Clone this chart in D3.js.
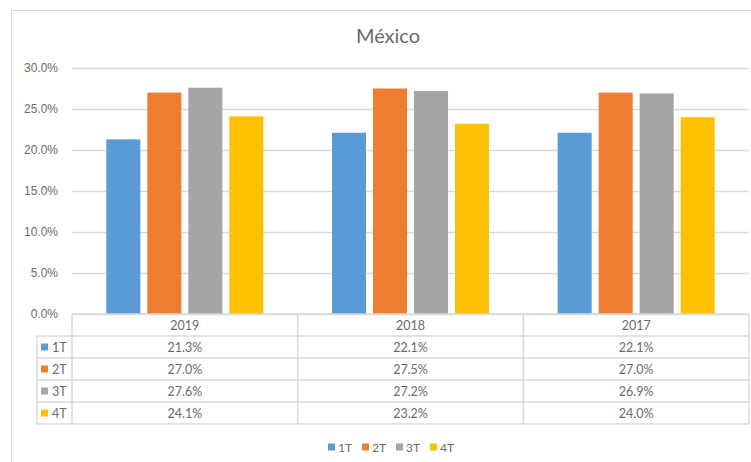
<!DOCTYPE html>
<html><head><meta charset="utf-8">
<script src="https://cdn.jsdelivr.net/npm/d3@7"></script>
<style>body{margin:0;background:#fff;} svg{display:block;font-family:Lato,"Open Sans",sans-serif;}</style>
</head><body>
<svg id="c" width="751" height="462"></svg>
<script>
const categories = ["2019", "2018", "2017"];
const series = ["1T", "2T", "3T", "4T"];
const values1T = [21.3, 22.1, 22.1];
const values2T = [27.0, 27.5, 27.0];
const values3T = [27.6, 27.2, 26.9];
const values4T = [24.1, 23.2, 24.0];
const yTicks = [0, 5, 10, 15, 20, 25, 30];
const colors = ["#5B9BD5", "#ED7D31", "#A5A5A5", "#FFC000"];
const seriesValues = [values1T, values2T, values3T, values4T];

const svg = d3.select("#c");
const txt = "#6a6a6a", line = "#d9d9d9";
const L = 72, R = 749, T = 68, B = 314;

// chart border
svg.append("line").attr("x1",11.5).attr("x2",751).attr("y1",10.5).attr("y2",10.5).attr("stroke",line);
svg.append("line").attr("x1",11.5).attr("x2",11.5).attr("y1",10.5).attr("y2",462).attr("stroke",line);

svg.append("text").attr("x",388).attr("y",43).attr("text-anchor","middle")
  .attr("font-size",20).attr("fill",txt).text("México");

const y = d3.scaleLinear().domain([0,30]).range([B,T]);
const x0 = d3.scaleBand().domain(categories).range([L,R]).padding(0);
const w = x0.bandwidth();
const x1 = d3.scaleBand().domain(series).range([w*0.152, w*0.848]).paddingInner(0.17);

// gridlines
const gAxis = svg.append("g").attr("transform",`translate(${L},0)`)
  .call(d3.axisLeft(y).tickValues(yTicks).tickSize(-(R-L)).tickFormat(d => d.toFixed(1)+"%"));
gAxis.select(".domain").remove();
gAxis.selectAll(".tick line").attr("stroke",line).attr("stroke-width",1.5);
gAxis.selectAll(".tick text").attr("x",-14).attr("fill",txt).attr("font-size",12);

// bars
const groups = svg.append("g").selectAll("g").data(categories).join("g")
  .attr("transform", d => `translate(${x0(d)},0)`);
groups.selectAll("rect").data((c,i) => series.map((s,j) => ({s, v: seriesValues[j][i], j})))
  .join("rect")
  .attr("x", d => x1(d.s)).attr("width", x1.bandwidth())
  .attr("y", d => y(d.v)).attr("height", d => B - y(d.v))
  .attr("fill", d => colors[d.j]);

// data table
const rowH = 22;
const tbl = svg.append("g").attr("stroke",line).attr("stroke-width",1.5).attr("fill","none");
tbl.append("line").attr("x1",L).attr("x2",R).attr("y1",B).attr("y2",B);
for (let r = 1; r <= 5; r++) {
  tbl.append("line").attr("x1",37).attr("x2",R).attr("y1",B+r*rowH).attr("y2",B+r*rowH);
}
tbl.append("line").attr("x1",37).attr("x2",37).attr("y1",B+rowH).attr("y2",B+5*rowH);
[L, ...categories.map(c => x0(c)+w)].forEach(xx => {
  tbl.append("line").attr("x1",xx).attr("x2",xx).attr("y1",B).attr("y2",B+5*rowH);
});
categories.forEach((c,i) => {
  svg.append("text").attr("x",x0(c)+w/2).attr("y",B+rowH/2+4.5).attr("text-anchor","middle")
    .attr("font-size",12.5).attr("fill",txt).text(c);
  series.forEach((s,j) => {
    svg.append("text").attr("x",x0(c)+w/2).attr("y",B+(j+1)*rowH+rowH/2+4.5).attr("text-anchor","middle")
      .attr("font-size",12.5).attr("fill",txt).text(seriesValues[j][i].toFixed(1)+"%");
  });
});
series.forEach((s,j) => {
  const cy = B+(j+1)*rowH+rowH/2;
  svg.append("rect").attr("x",41).attr("y",cy-3.5).attr("width",7).attr("height",7).attr("fill",colors[j]);
  svg.append("text").attr("x",52).attr("y",cy+4.5).attr("font-size",12.5).attr("fill",txt).text(s);
});

// legend
const lg = svg.append("g").attr("transform","translate(328,447)");
series.forEach((s,j) => {
  const g = lg.append("g").attr("transform",`translate(${j*34},0)`);
  g.append("rect").attr("x",0).attr("y",-3.5).attr("width",7).attr("height",7).attr("fill",colors[j]);
  g.append("text").attr("x",10).attr("y",4.5).attr("font-size",12).attr("fill",txt).text(s);
});
</script>
</body></html>
